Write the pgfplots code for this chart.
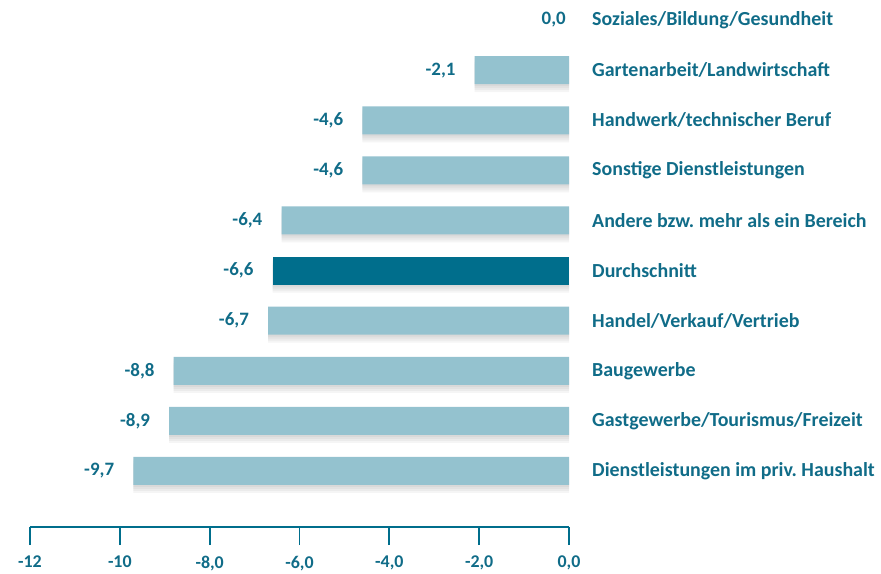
\documentclass[border=0pt]{standalone}
\usepackage{fontspec}
\setmainfont{Carlito}
\usepackage{pgfplots}
\pgfplotsset{compat=1.18}
\frenchspacing
\definecolor{dark}{RGB}{0,110,140}
\definecolor{light}{RGB}{148,194,207}
\definecolor{txt}{RGB}{16,108,136}
\pgfplotsset{
  vals/.style={
    point meta=x,
    nodes near coords={\pgfmathprintnumber[fixed,fixed zerofill,precision=1,use comma,assume math mode=true]{\pgfplotspointmeta}},
    every node near coord/.append style={anchor=east, inner sep=0pt, xshift=-19bp, text=txt, font=\fontsize{19}{19}\selectfont\bfseries},
  },
  shad/.style={xbar, bar width=28bp, bar shift=-#1, fill=black, opacity=0.04, draw=none, forget plot},
}
\begin{document}
\begin{tikzpicture}[font=\bfseries]
\begin{axis}[name=ax, at={(0,0)}, anchor=south west,
  scale only axis, width=539bp, height=527bp,
  xmin=-12, xmax=0, ymin=-1.118, ymax=9.4,
  axis x line*=bottom, axis y line*=right,
  y axis line style={draw=none},
  x axis line style={dark, line width=1.8bp},
  xtick={-12,-10,-8,-6,-4,-2,0},
  xticklabels={-12,-10,{-8,0},{-6,0},{-4,0},{-2,0},{0,0}},
  xtick style={dark, line width=1.8bp},
  tick align=outside, major tick length=18bp,
  xticklabel style={font=\fontsize{18}{18}\selectfont\bfseries, text=txt, inner sep=0pt, anchor=north, yshift=-11bp},
  ytick={0,...,9},
  yticklabels={Dienstleistungen im priv. Haushalt, Gastgewerbe/Tourismus/Freizeit, Baugewerbe, Handel/Verkauf/Vertrieb, Durchschnitt, Andere bzw. mehr als ein Bereich, Sonstige Dienstleistungen, Handwerk/technischer Beruf, Gartenarbeit/Landwirtschaft, Soziales/Bildung/Gesundheit},
  ytick style={draw=none},
  yticklabel style={anchor=west, inner sep=0pt, font=\fontsize{20}{20}\selectfont\bfseries\frenchspacing, text=txt, xshift=5bp},
]
% soft shadows
\addplot[shad=2bp] coordinates {(-9.7,0) (-8.9,1) (-8.8,2) (-6.7,3) (-6.6,4) (-6.4,5) (-4.6,6) (-4.6,7) (-2.1,8)};
\addplot[shad=4bp] coordinates {(-9.7,0) (-8.9,1) (-8.8,2) (-6.7,3) (-6.6,4) (-6.4,5) (-4.6,6) (-4.6,7) (-2.1,8)};
\addplot[shad=6bp] coordinates {(-9.7,0) (-8.9,1) (-8.8,2) (-6.7,3) (-6.6,4) (-6.4,5) (-4.6,6) (-4.6,7) (-2.1,8)};
\addplot[shad=8bp] coordinates {(-9.7,0) (-8.9,1) (-8.8,2) (-6.7,3) (-6.6,4) (-6.4,5) (-4.6,6) (-4.6,7) (-2.1,8)};
% bars
\addplot[xbar, bar width=28bp, bar shift=0pt, fill=light, draw=none, vals] coordinates {
  (-9.7,0) (-8.9,1) (-8.8,2) (-6.7,3) (-6.4,5) (-4.6,6) (-4.6,7) (-2.1,8)
};
\addplot[xbar, bar width=28bp, bar shift=0pt, fill=dark, draw=none, vals] coordinates {
  (-6.6,4)
};
\addplot[only marks, mark=none, vals, every node near coord/.append style={xshift=16bp}] coordinates {
  (0,9)
};
\end{axis}
\pgfresetboundingbox
\path ([xshift=-30bp,yshift=-46bp]ax.south west) rectangle ([xshift=312bp]ax.north east);
\end{tikzpicture}
\end{document}
